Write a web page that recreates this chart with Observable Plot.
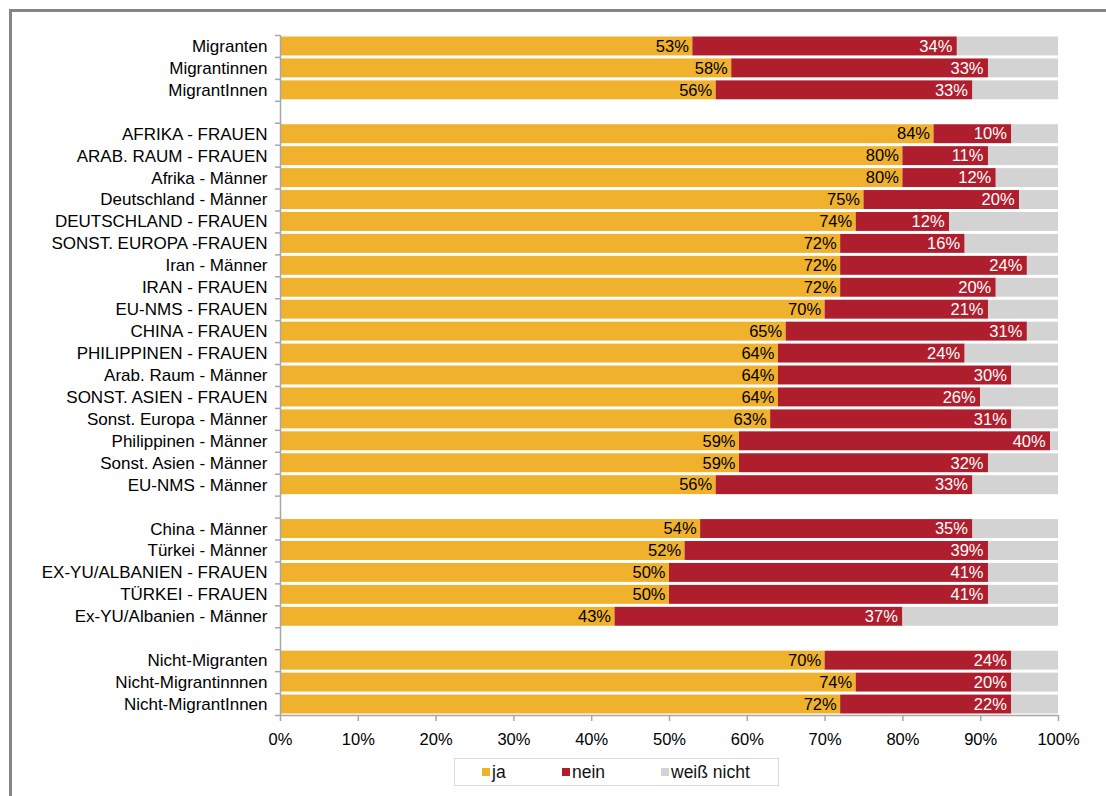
<!DOCTYPE html>
<html>
<head>
<meta charset="utf-8">
<script src="https://cdn.jsdelivr.net/npm/d3@7"></script>
<script src="https://cdn.jsdelivr.net/npm/@observablehq/plot@0.6"></script>
<style>
  html, body { margin: 0; padding: 0; background: #fff; }
  #wrap { position: relative; width: 1106px; height: 796px; overflow: hidden; font-family: "Liberation Sans", Arial, sans-serif; }
  #frame { position: absolute; left: 9px; top: 9px; width: 1200px; height: 900px; border-left: 3px solid #858585; border-top: 3px solid #858585; }
  #chart { position: absolute; left: 0; top: 0; }
  #legend { position: absolute; left: 454px; top: 758px; width: 325px; height: 28px; border: 1px solid #d9d9d9; box-sizing: border-box; font-size: 17.5px; color: #111; }
  .item { position: absolute; top: 3px; display: flex; align-items: center; height: 20px; }
  .sw { width: 8px; height: 8px; margin-right: 2px; display: inline-block; }
</style>
</head>
<body>
<div id="wrap">
  <div id="frame"></div>
  <div id="chart"></div>
  <div id="legend"></div>
</div>
<script>
// Categories (empty strings = gaps between groups)
const categories = [
  "Migranten", "Migrantinnen", "MigrantInnen",
  "",
  "AFRIKA - FRAUEN", "ARAB. RAUM - FRAUEN", "Afrika - Männer", "Deutschland - Männer",
  "DEUTSCHLAND - FRAUEN", "SONST. EUROPA -FRAUEN", "Iran - Männer", "IRAN - FRAUEN",
  "EU-NMS - FRAUEN", "CHINA - FRAUEN", "PHILIPPINEN - FRAUEN", "Arab. Raum - Männer",
  "SONST. ASIEN - FRAUEN", "Sonst. Europa - Männer", "Philippinen - Männer",
  "Sonst. Asien - Männer", "EU-NMS - Männer",
  "",
  "China - Männer", "Türkei - Männer", "EX-YU/ALBANIEN - FRAUEN", "TÜRKEI - FRAUEN",
  "Ex-YU/Albanien - Männer",
  "",
  "Nicht-Migranten", "Nicht-Migrantinnnen", "Nicht-MigrantInnen"
];
const ja = [
  53, 58, 56,
  null,
  84, 80, 80, 75, 74, 72, 72, 72, 70, 65, 64, 64, 64, 63, 59, 59, 56,
  null,
  54, 52, 50, 50, 43,
  null,
  70, 74, 72
];
const nein = [
  34, 33, 33,
  null,
  10, 11, 12, 20, 12, 16, 24, 20, 21, 31, 24, 30, 26, 31, 40, 32, 33,
  null,
  35, 39, 41, 41, 37,
  null,
  24, 20, 22
];
const seriesNames = ["ja", "nein", "weiß nicht"];
const seriesColors = ["#F0B12D", "#AF1E2D", "#D3D3D3"];
const xTicks = [0, 10, 20, 30, 40, 50, 60, 70, 80, 90, 100];

const n = categories.length;
const rows = categories.map((c, i) => ({i, c, ja: ja[i], nein: nein[i]})).filter(d => d.ja != null);
const segs = [];
for (const r of rows) {
  const vals = [r.ja, r.nein, 100 - r.ja - r.nein];
  let acc = 0;
  vals.forEach((v, k) => {
    segs.push({i: r.i, series: seriesNames[k], x1: acc, x2: acc + v, v});
    acc += v;
  });
}
const labelRows = rows.map(r => r.i + 0.5);

const chart = Plot.plot({
  width: 1106,
  height: 750,
  marginLeft: 280,
  marginRight: 48,
  marginTop: 35,
  marginBottom: 35,
  style: {background: "transparent", fontFamily: "'Liberation Sans', Arial, sans-serif", fontSize: "16px"},
  x: {domain: [0, 100]},
  y: {domain: [0, n], reverse: true},
  color: {domain: seriesNames, range: seriesColors},
  marks: [
    Plot.rect(segs, {
      x1: "x1", x2: "x2",
      y1: d => d.i, y2: d => d.i + 1,
      fill: "series",
      insetTop: 1.5, insetBottom: 1.5
    }),
    // y axis line and boundary ticks
    Plot.ruleX([0], {stroke: "#a6a6a6", strokeWidth: 1.5}),
    Plot.axisY({ticks: d3.range(0, n + 1), tickSize: 5, tickFormat: () => "", stroke: "#a6a6a6", strokeWidth: 1.5}),
    Plot.axisY({ticks: labelRows, tickSize: 0, tickPadding: 13, tickFormat: v => categories[Math.floor(v)], fill: "#000", fontSize: 17}),
    // x axis
    Plot.ruleY([n], {stroke: "#a6a6a6", strokeWidth: 1.5}),
    Plot.axisX({ticks: xTicks, tickSize: 6, tickPadding: 12, tickFormat: d => d + "%", stroke: "#a6a6a6", strokeWidth: 1.5, fill: "#000", fontSize: 16.5}),
    // value labels
    Plot.text(rows, {x: "ja", y: d => d.i + 0.5, text: d => d.ja + "%", textAnchor: "end", dx: -4, fill: "#000", fontSize: 16.5}),
    Plot.text(rows, {x: d => d.ja + d.nein, y: d => d.i + 0.5, text: d => d.nein + "%", textAnchor: "end", dx: -5, fill: "#fff", fontSize: 16.5})
  ]
});
document.getElementById("chart").appendChild(chart);

// Legend
const legend = document.getElementById("legend");
const lx = [27, 107, 206];
seriesNames.forEach((s, k) => {
  const it = document.createElement("div");
  it.className = "item";
  it.style.left = lx[k] + "px";
  it.innerHTML = `<span class="sw" style="background:${seriesColors[k]}"></span><span>${s}</span>`;
  legend.appendChild(it);
});
</script>
</body>
</html>
